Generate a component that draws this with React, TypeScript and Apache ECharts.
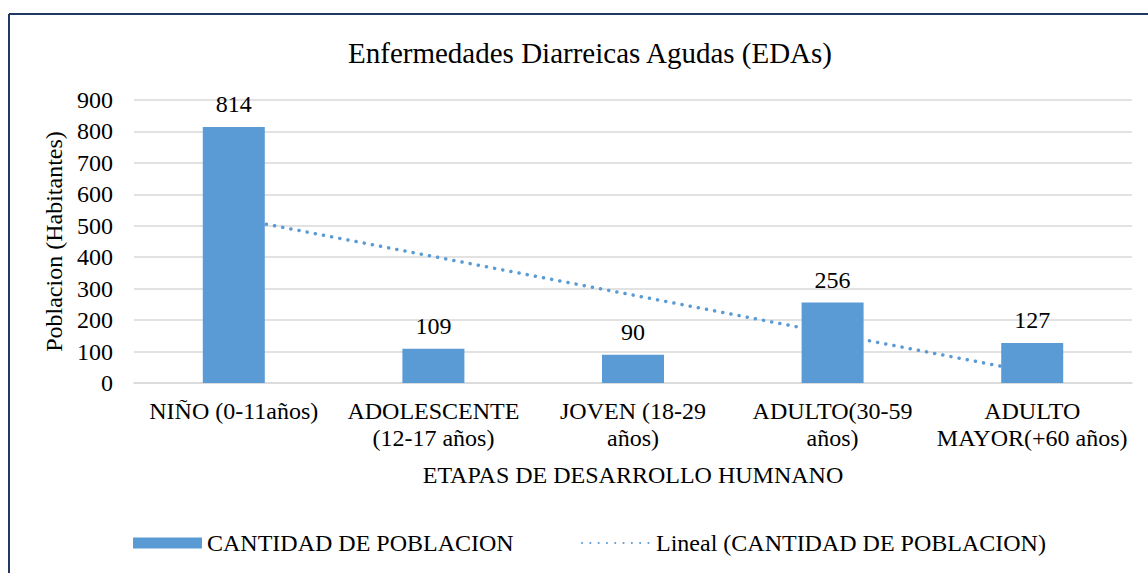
import React, { useEffect, useRef } from "react";
import * as echarts from "echarts";

const categories = [
  "NIÑO (0-11años)",
  "ADOLESCENTE\n(12-17 años)",
  "JOVEN (18-29\naños)",
  "ADULTO(30-59\naños)",
  "ADULTO\nMAYOR(+60 años)",
];
const poblacion = [814, 109, 90, 256, 127];
// Linear trendline (Excel "Lineal") read at first and last category
const trendline = [525, null, null, null, 34];
const yTicks = { min: 0, max: 900, interval: 100 };

const FONT = "Liberation Serif";
const BLUE = "#5b9bd5";

export default function App() {
  const ref = useRef<HTMLDivElement>(null);
  useEffect(() => {
    if (!ref.current) return;
    const chart = echarts.init(ref.current, undefined, { renderer: "svg" });
    chart.setOption({
      animation: false,
      backgroundColor: "#ffffff",
      textStyle: { fontFamily: FONT },
      title: {
        text: "Enfermedades Diarreicas Agudas (EDAs)",
        left: 585,
        textAlign: "center",
        top: 33,
        textStyle: { fontFamily: FONT, fontSize: 29, fontWeight: "normal", color: "#000" },
      },
      grid: { left: 134, right: 16, top: 100, bottom: 190, containLabel: false },
      legend: [
        {
          data: [{ name: "CANTIDAD DE POBLACION", icon: "rect" }],
          left: 128,
          top: 526,
          itemWidth: 69,
          itemHeight: 11,
          itemGap: 8,
          textStyle: { fontFamily: FONT, fontSize: 24, color: "#000" },
        },
        {
          data: [{ name: "Lineal (CANTIDAD DE POBLACION)", itemStyle: { opacity: 0 } }],
          left: 576,
          top: 526,
          itemWidth: 69,
          itemHeight: 11,
          itemGap: 6,
          textStyle: { fontFamily: FONT, fontSize: 24, color: "#000" },
        },
      ],
      xAxis: {
        type: "category",
        data: categories,
        name: "ETAPAS DE DESARROLLO HUMNANO",
        nameLocation: "middle",
        nameGap: 80,
        nameTextStyle: { fontFamily: FONT, fontSize: 24, color: "#000" },
        axisLine: { show: true, lineStyle: { color: "#d9d9d9", width: 1.5 } },
        axisTick: { show: false },
        axisLabel: {
          fontFamily: FONT,
          fontSize: 24,
          color: "#000",
          margin: 14,
          lineHeight: 27,
          interval: 0,
        },
      },
      yAxis: {
        type: "value",
        min: yTicks.min,
        max: yTicks.max,
        interval: yTicks.interval,
        name: "Poblacion (Habitantes)",
        nameLocation: "middle",
        nameGap: 66,
        nameRotate: 90,
        nameTextStyle: { fontFamily: FONT, fontSize: 24, color: "#000" },
        axisLine: { show: false },
        axisTick: { show: false },
        axisLabel: { fontFamily: FONT, fontSize: 24, color: "#000", margin: 21 },
        splitLine: { lineStyle: { color: "#d9d9d9", width: 1.5 } },
      },
      series: [
        {
          name: "CANTIDAD DE POBLACION",
          type: "bar",
          data: poblacion,
          barWidth: 62,
          z: 3,
          itemStyle: { color: BLUE },
          label: {
            show: true,
            position: "top",
            distance: 11,
            fontFamily: FONT,
            fontSize: 24,
            color: "#000",
          },
        },
        {
          name: "Lineal (CANTIDAD DE POBLACION)",
          type: "line",
          data: trendline,
          connectNulls: true,
          symbol: "none",
          z: 1,
          itemStyle: { color: BLUE },
          lineStyle: { color: BLUE, width: 3.5, type: [0.1, 8.2], cap: "round" },
        },
      ],
      graphic: [
        {
          type: "line",
          shape: { x1: 9, y1: 14, x2: 1148, y2: 14 },
          style: { stroke: "#1f3864", lineWidth: 2 },
        },
        {
          type: "line",
          shape: { x1: 9, y1: 14, x2: 9, y2: 573 },
          style: { stroke: "#1f3864", lineWidth: 2 },
        },
      ],
    });
    return () => chart.dispose();
  }, []);
  return (
    <div
      ref={ref}
      style={{ position: "fixed", left: 0, top: 0, width: 1148, height: 573 }}
    />
  );
}
